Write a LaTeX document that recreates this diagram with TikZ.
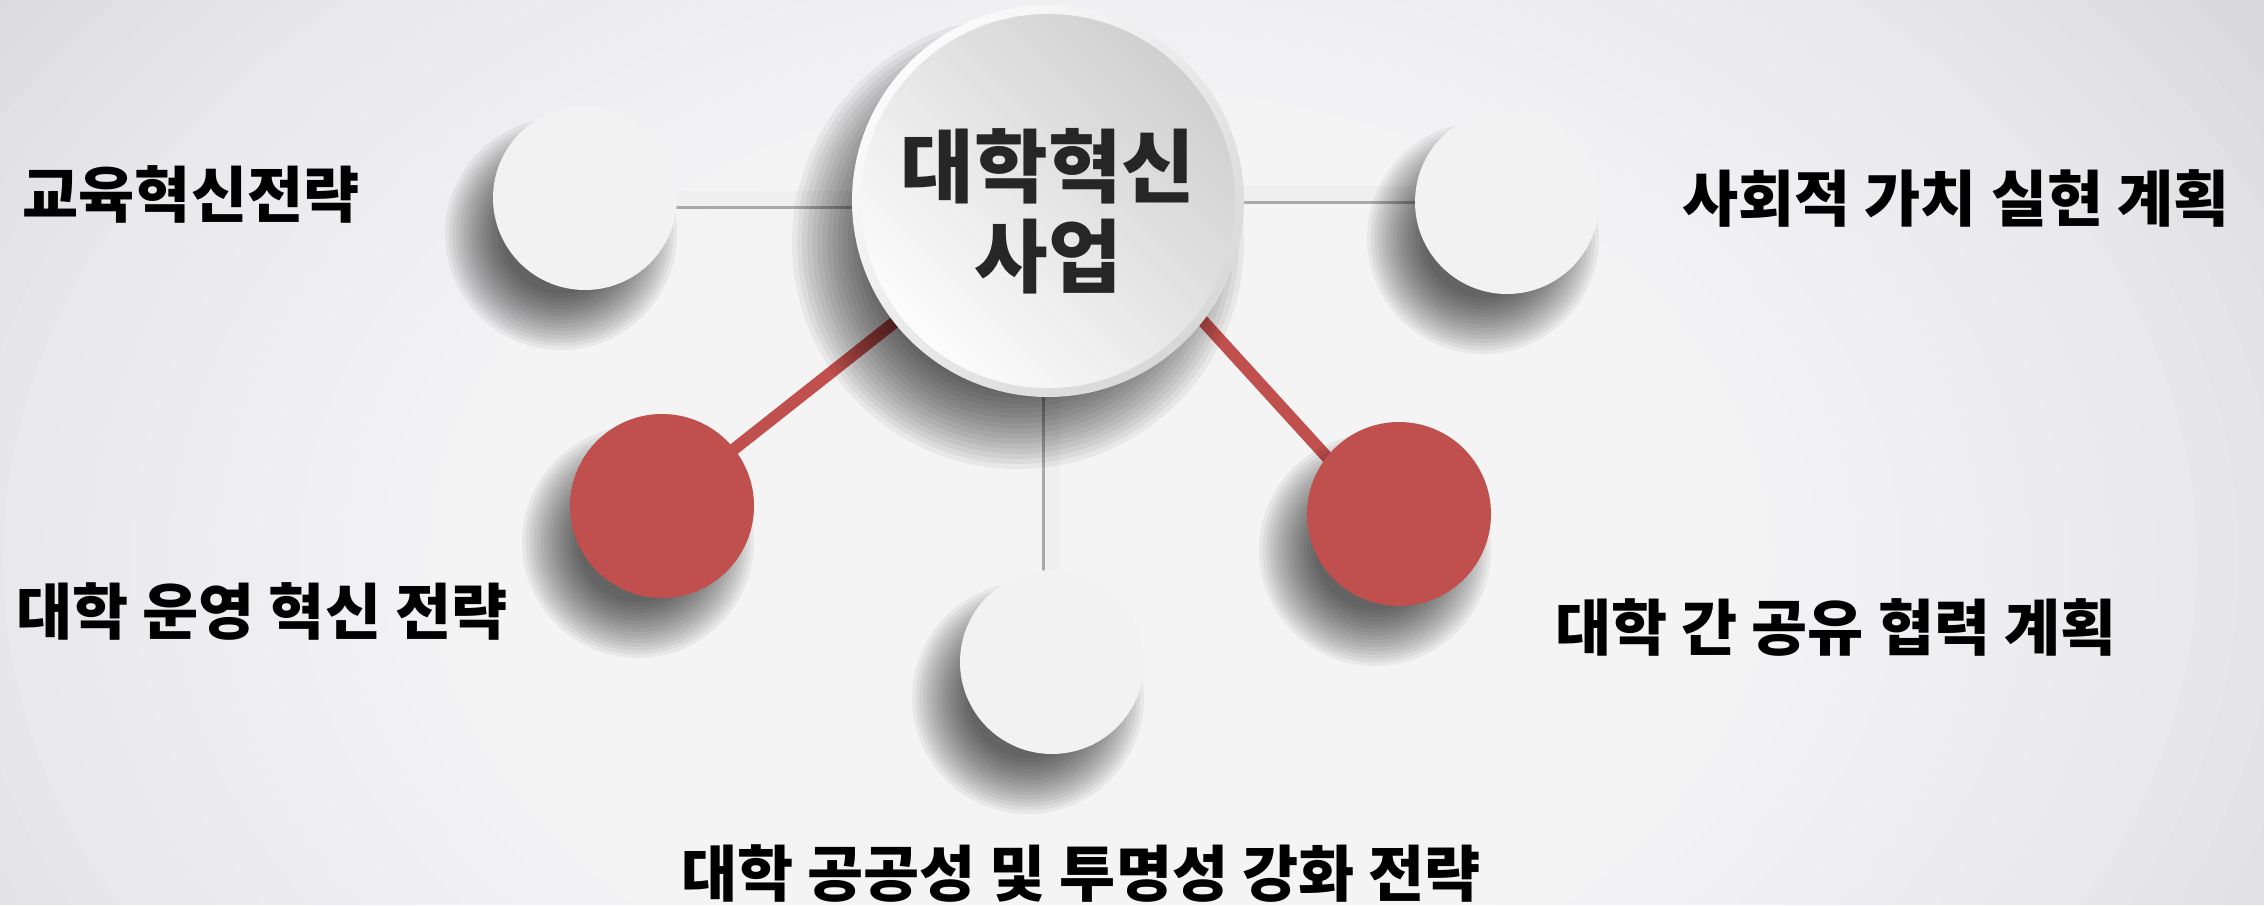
\documentclass[tikz,border=0pt]{standalone}
\usepackage{fontspec}
\setmainfont{Noto Sans CJK KR}
\usetikzlibrary{calc}
\definecolor{redc}{HTML}{C0504D}
\definecolor{satw}{HTML}{F2F2F2}
\definecolor{bgout}{HTML}{D9D9DE}
\definecolor{txt}{HTML}{262626}
\definecolor{barc}{HTML}{EFEFEF}
\definecolor{ringhi}{HTML}{FBFBFB}
\definecolor{ringlo}{HTML}{D8D8D8}
\definecolor{diskhi}{HTML}{FCFCFC}
\definecolor{disklo}{HTML}{D0D0D0}
\pgfdeclarelayer{bg}
\pgfdeclarelayer{lines}
\pgfdeclarelayer{shadowlayer}
\pgfsetlayers{bg,lines,shadowlayer,main}
% #1 node, #2 radius, #3 blur, #4 offset
\newcommand\mysoftshadow[4]{%
  \foreach \k in {0,...,15}{%
    \fill[black, opacity=0.05] ($(#1)+(#4)$) circle [radius={#2+#3-\k*#3/7.5}];}}
\begin{document}
\begin{tikzpicture}[x=1pt,y=-1pt,
  sat/.style={circle, minimum size=184pt, inner sep=0pt},
  wsat/.style={sat, fill=satw},
  rsat/.style={sat, fill=redc},
  lab/.style={inner sep=0pt, text=black, font=\bfseries\fontsize{61}{66}\selectfont},
  gbar/.style={line width=15pt, color=barc},
  gshadow/.style={line width=8pt, color=black, opacity=0.3},
  rline/.style={line width=12pt, color=redc}
]
\useasboundingbox (0,0) rectangle (2264,905);
\begin{pgfonlayer}{bg}
\fill[bgout] (0,0) rectangle (2264,905);
\begin{scope}
\clip (0,0) rectangle (2264,905);
\foreach \k in {0,...,29}{%
  \fill[white, opacity=0.09] (1100,560) ellipse [x radius={1350*(1-\k/32)}, y radius={950*(1-\k/32)}];}
\end{scope}
\end{pgfonlayer}

% satellites
\node[wsat] (L) at (585,198) {};
\node[wsat] (R) at (1507,202) {};
\node[rsat] (LR) at (662,506) {};
\node[rsat] (RR) at (1399,514) {};
\node[wsat] (B) at (1052,662) {};

% center
\node[circle, minimum size=392pt, inner sep=0pt, top color=ringhi, bottom color=ringlo, shading angle=45] (C) at (1048,201) {};
\shade[top color=disklo, bottom color=diskhi, shading angle=-45] (C.center) circle [radius=187];
\node[align=center, text=txt, font=\bfseries\fontsize{80}{90}\selectfont, inner sep=0pt] (CT) at (1048,211) {대학혁신\\사업};

\begin{pgfonlayer}{shadowlayer}
\mysoftshadow{L.center}{88}{28}{-24,36}
\mysoftshadow{R.center}{88}{28}{-24,36}
\mysoftshadow{LR.center}{88}{28}{-24,36}
\mysoftshadow{RR.center}{88}{28}{-24,36}
\mysoftshadow{B.center}{88}{28}{-24,36}
\mysoftshadow{C.center}{188}{38}{-30,42}
\end{pgfonlayer}

\coordinate (Lend) at (C.center |- L.center);
\coordinate (Rend) at ($(C.center |- R.center)+(0,-9)$);
\coordinate (Rst) at ($(R.center)+(0,-9)$);
\coordinate (Bend) at (B.center |- C.center);
\coordinate (RRs) at ($(C.center)+(0,-50)$);
\coordinate (RRe) at ($(RR.center)+(-22,-2)$);

\begin{pgfonlayer}{lines}
\draw[gshadow] ($(L.center)+(-2,7)$) -- ($(Lend)+(-2,7)$);
\draw[gbar] (L.center) -- (Lend);
\draw[gshadow] ($(Rst)+(-2,7)$) -- ($(Rend)+(-2,7)$);
\draw[gbar] (Rst) -- (Rend);
\draw[gshadow] ($(B.center)+(-6,0)$) -- ($(Bend)+(-6,0)$);
\draw[gbar] (B.center) -- (Bend);
\draw[rline] (C.center) -- (LR.center);
\draw[rline] (RRs) -- (RRe);
\end{pgfonlayer}

% labels
\node[lab] (t1) at (191,194) {교육혁신전략};
\node[lab] (t2) at (1956,198) {사회적 가치 실현 계획};
\node[lab] (t3) at (262,611) {대학 운영 혁신 전략};
\node[lab] (t4) at (1836,627) {대학 간 공유 협력 계획};
\node[lab] (t5) at (1081,874) {대학 공공성 및 투명성 강화 전략};
\end{tikzpicture}
\end{document}
